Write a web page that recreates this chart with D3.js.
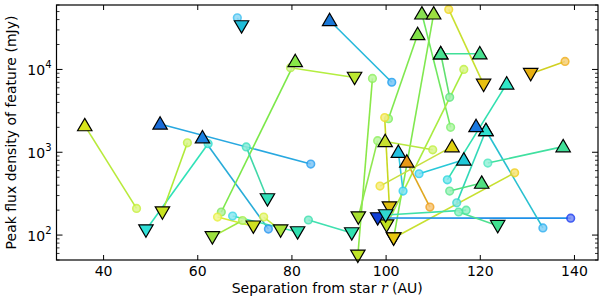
<!DOCTYPE html>
<html><head><meta charset="utf-8">
<script src="https://cdn.jsdelivr.net/npm/d3@7"></script>
<style>body{margin:0;background:#fff}svg{display:block}text{font-family:"DejaVu Sans",sans-serif}</style>
</head><body><svg id="c" width="600" height="297"></svg>
<script>
// Segment data: start point (x0,y0,m0) to end point (x1,y1,m1)
const x0 = [47,84,75,62.2,57.8,68.4,101.2,65,79.7,97.1,70.3,64.2,67.4,74,69.5,83.5,100.5,98.2,99.7,113.3,138,111.6,113.5,113.7,101.6,127.3,116.5,98.2,117,115.4,133.3,115,113,113.5,121.6,103.6,107,109.3,109.9,98.7];
const y0 = [210,720,118,1270,1300,42000,7000,190,10500,7800,1160,165,170,165,150,152,2540,1380,2620,53000,12500,15500,4600,2000,92,565,10000,161,200,190,122,245,465,340,740,340,550,218,1070,390];
const m0 = ['o','o','o','o','o','o','o','o','o','o','o','o','o','o','o','o','o','o','o','o','o','^','o','o','v','o','o','v','o','o','o','o','o','o','o','o','o','o','o','o'];
const x1 = [36,52,61,49,52.5,69.3,88,80.7,93.3,94,74.8,71.8,81.2,77.6,63.1,92.7,106.7,94.1,100.7,120.7,130.7,119.9,111.6,107.6,110.1,101.6,100.1,139.2,99.9,123.7,121.2,121.2,125.6,120.3,137.6,102.6,116.5,104.4,99.8,114];
const y1 = [2100,2200,1500,115,190,33500,39000,12500,8000,57,273,128,109,115,95,106,26500,165,218,6600,8900,15500,15500,47000,47000,92,132,160,175,130,1830,1830,6700,425,1170,1000,810,765,1350,1170];
const m1 = ['^','^','^','v','v','v','^','^','v','v','v','v','v','v','v','v','^','v','v','v','v','^','^','^','^','v','v','o','v','v','^','^','^','^','^','^','^','^','^','^'];
// lone markers
const lx = [119.1], ly = [2050], lm = ['^'];

// colours (style)
const lineCol = ['#b8ea3a','#28a8e0','#28acd8','#30e2b8','#b0ea38','#38c0ee','#26b8dc','#7ce84a','#b4ee40','#8ae848','#40d8a8','#d8ea30','#40e0b0','#c0ea40','#a0e840','#40e0b0','#80e850','#90e850','#c8d820','#c8e030','#d0d020','#40e098','#60e070','#70e860','#80e850','#c8e030','#a8ec40','#1e90e8','#40e0a8','#50e090','#28c0d0','#30d8b8','#30e0b0','#50e080','#40e0a0','#30c8e0','#28c8d8','#e0a820','#b8e840','#c8e040'];
const col0 = ['#c8f040','#2aa0f0','#2a98f0','#30e0d0','#c0f040','#40c0f0','#20a0f0','#80e860','#b8f050','#90f060','#40e0c0','#e8f040','#40d8e8','#d8f040','#a8f050','#40e0b0','#80f060','#90f060','#f0e030','#f0d820','#f0b020','#48e090','#60e880','#80f070','#e0c810','#f0d020','#c0f040','#1040d8','#50e8a0','#50e8a0','#30b0f0','#40d8d0','#30d8e0','#60e890','#50e8c0','#30d0f0','#30d0f0','#f0a020','#c0f040','#f0e030'];
const col1 = ['#d8e61c','#1a6cd8','#1a80e0','#30e0d8','#c8e220','#20bcd8','#1a78d8','#88e848','#bce830','#c0e428','#30e0b8','#d0e020','#30e0b0','#a8e438','#9ce040','#30e0b0','#80e048','#a8e030','#e0c010','#e8c010','#e8b010','#48e090','#48e090','#88e050','#9ce040','#e8c810','#c0e020','#2040f0','#30d8d0','#40e090','#30e0d0','#30e0d0','#30e8c8','#50e080','#40e098','#20c0e0','#20c8d8','#e89818','#c8e030','#e0d010'];
const loneCol = ['#1a78e0'];

const xTicks = [40,60,80,100,120,140];
const yTicks = [100,1000,10000];
const yTickExp = ['2','3','4'];

const L=56.5, R=598, T=5, B=260;
const svg = d3.select('#c');
const x = d3.scaleLinear().domain([30,145]).range([L,R]);
const y = d3.scaleLog().domain([50,60000]).range([B,T]);

const segs = x0.map((_,i)=>({i, a:[x0[i],y0[i],m0[i],col0[i]], b:[x1[i],y1[i],m1[i],col1[i]], c:lineCol[i]}));

const g = svg.append('g');
g.selectAll('line.seg').data(segs).join('line').attr('class','seg')
  .attr('x1',d=>x(d.a[0])).attr('y1',d=>y(d.a[1]))
  .attr('x2',d=>x(d.b[0])).attr('y2',d=>y(d.b[1]))
  .attr('stroke',d=>d.c).attr('stroke-width',1.6);

const pts = [];
segs.forEach(d=>{pts.push(d.a);pts.push(d.b);});
lx.forEach((v,i)=>pts.push([v,ly[i],lm[i],loneCol[i]]));

function tri(up){const s=7.2, h=6.2;return up?`M0,${-h}L${s},${h}L${-s},${h}Z`:`M0,${h}L${s},${-h}L${-s},${-h}Z`;}
pts.filter(p=>p[2]==='o').forEach(p=>{
  g.append('circle').attr('cx',x(p[0])).attr('cy',y(p[1])).attr('r',3.8)
   .attr('fill',d3.interpolateRgb(p[3],'#ffffff')(0.4)).attr('stroke',p[3]).attr('stroke-width',1.6).attr('opacity',0.85);
});
pts.filter(p=>p[2]!=='o').forEach(p=>{
  const up=p[2]==='^';
  g.append('path').attr('d',tri(up)).attr('transform',`translate(${x(p[0])},${y(p[1])+(up?-1:1)})`)
   .attr('fill',p[3]).attr('stroke','#000').attr('stroke-width',1.2).attr('stroke-linejoin','miter');
});

svg.append('rect').attr('x',L).attr('y',T).attr('width',R-L).attr('height',B-T).attr('fill','none').attr('stroke','#000').attr('stroke-width',1.2);
xTicks.forEach(t=>{
  svg.append('line').attr('x1',x(t)).attr('x2',x(t)).attr('y1',B).attr('y2',B-5).attr('stroke','#000');
  svg.append('line').attr('x1',x(t)).attr('x2',x(t)).attr('y1',T).attr('y2',T+5).attr('stroke','#000');
  svg.append('text').attr('x',x(t)).attr('y',276).attr('text-anchor','middle').attr('font-size',14).text(t);
});
const minors=[];
[10,100,1000,10000].forEach(dd=>{for(let k=2;k<10;k++){const v=dd*k; if(v>=50&&v<=60000) minors.push(v);}});
minors.forEach(v=>{
  svg.append('line').attr('x1',L).attr('x2',L+3).attr('y1',y(v)).attr('y2',y(v)).attr('stroke','#000').attr('stroke-width',0.8);
  svg.append('line').attr('x1',R-3).attr('x2',R).attr('y1',y(v)).attr('y2',y(v)).attr('stroke','#000').attr('stroke-width',0.8);
});
yTicks.forEach((t,i)=>{
  svg.append('line').attr('x1',L).attr('x2',L+6).attr('y1',y(t)).attr('y2',y(t)).attr('stroke','#000');
  svg.append('line').attr('x1',R-6).attr('x2',R).attr('y1',y(t)).attr('y2',y(t)).attr('stroke','#000');
  const tx = svg.append('text').attr('x',L-5).attr('y',y(t)+5.5).attr('text-anchor','end').attr('font-size',14);
  tx.append('tspan').text('10');
  tx.append('tspan').attr('font-size',10).attr('dy',-7).text(yTickExp[i]);
});
const xl = svg.append('text').attr('x',(L+R)/2).attr('y',293).attr('text-anchor','middle').attr('font-size',14);
xl.append('tspan').text('Separation from star ');
xl.append('tspan').attr('font-style','italic').attr('font-family','DejaVu Serif').text('r');
xl.append('tspan').text(' (AU)');
svg.append('text').attr('transform',`translate(15.5,${(T+B)/2}) rotate(-90)`).attr('text-anchor','middle').attr('font-size',14).text('Peak flux density of feature (mJy)');
</script></body></html>
